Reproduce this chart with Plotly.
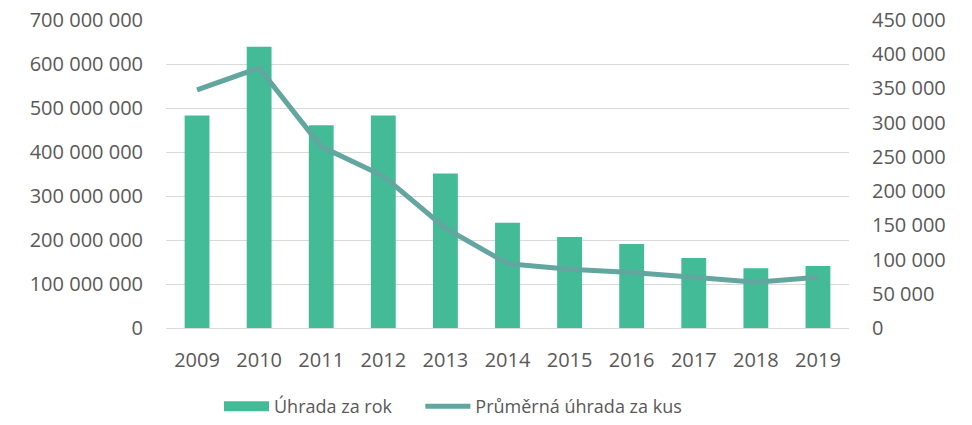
import plotly.graph_objects as go

years = ["2009", "2010", "2011", "2012", "2013", "2014", "2015", "2016", "2017", "2018", "2019"]
uhrada_za_rok = [483e6, 639e6, 461e6, 483e6, 351e6, 239e6, 207e6, 191e6, 159e6, 136e6, 141e6]
prumerna_uhrada = [348000, 380000, 265000, 222000, 146000, 94000, 86000, 81000, 74000, 67000, 74000]

left_ticks = [0, 100e6, 200e6, 300e6, 400e6, 500e6, 600e6, 700e6]
right_ticks = [0, 50000, 100000, 150000, 200000, 250000, 300000, 350000, 400000, 450000]

def fmt(v):
    return f"{int(v):,}".replace(",", " ")

bar_color = "#43BB96"
line_color = "#62A69F"

fig = go.Figure()
fig.add_trace(go.Bar(x=years, y=uhrada_za_rok, name="Úhrada za rok", showlegend=False,
                     marker=dict(color=bar_color, line=dict(width=0))))
# legend swatch for the bars (wide rectangle like the original)
fig.add_trace(go.Scatter(x=[None], y=[None], name="Úhrada za rok" + "\u00a0" * 5, mode="lines",
                         line=dict(color=bar_color, width=14), showlegend=True))
fig.add_trace(go.Scatter(x=years, y=prumerna_uhrada, name="Průměrná úhrada za kus",
                         mode="lines", yaxis="y2",
                         line=dict(color=line_color, width=5)))

font_color = "#595959"
fs = 20
W, H = 972, 425
fig.update_layout(
    width=W, height=H,
    margin=dict(l=166, r=123, t=20, b=97),
    plot_bgcolor="white", paper_bgcolor="white",
    font=dict(family="Open Sans", size=fs, color=font_color),
    bargap=0.6,
    showlegend=True,
    legend=dict(orientation="h", x=219 / W, xanchor="left", xref="container",
                y=-0.01, yanchor="bottom", yref="container",
                itemwidth=45,
                font=dict(size=18, color=font_color), traceorder="normal"),
    xaxis=dict(showgrid=False, showline=True, linecolor="#D9D9D9", linewidth=1,
               ticks="", automargin=False, ticklabelstandoff=14,
               tickfont=dict(size=fs, color=font_color)),
    yaxis=dict(range=[0, 700e6], tickvals=left_ticks, ticktext=[fmt(v) for v in left_ticks],
               showgrid=True, gridcolor="#D9D9D9", gridwidth=1, zeroline=False,
               showline=False, ticks="", ticklabelstandoff=22, automargin=False,
               ticklabeloverflow="allow",
               tickfont=dict(size=fs, color=font_color)),
    yaxis2=dict(range=[0, 450000], tickvals=right_ticks, ticktext=[fmt(v) for v in right_ticks],
                overlaying="y", side="right", showgrid=False, zeroline=False,
                showline=False, ticks="", ticklabelstandoff=22, automargin=False,
                ticklabeloverflow="allow",
                tickfont=dict(size=fs, color=font_color)),
)

fig.write_html("out.html", config={"displayModeBar": False},
               post_script="document.body.style.margin='0';")
